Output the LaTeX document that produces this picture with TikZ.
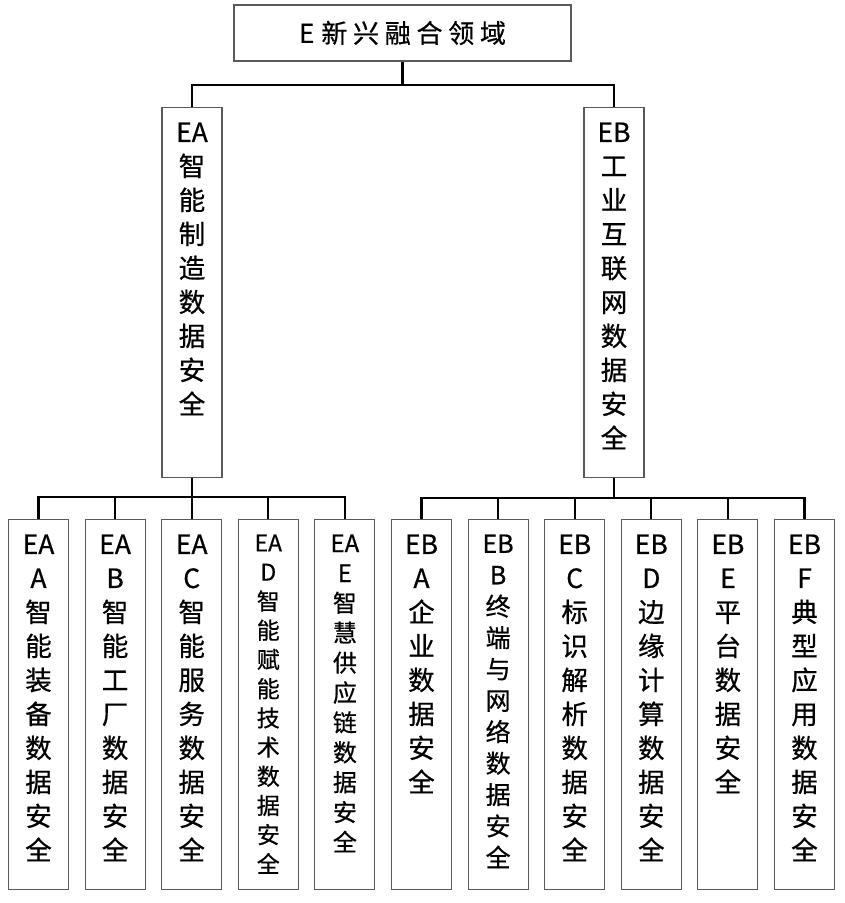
\documentclass[tikz,border=0pt]{standalone}
\usepackage{fontspec}
\setmainfont{Noto Sans CJK SC}[FakeBold=0.6]
\newfontfamily\titlefont[LetterSpace=22,FakeBold=0.6]{Noto Sans CJK SC}
\usetikzlibrary{positioning}
% one column of text, set from the top of a tall box
\newcommand{\colbox}[3]{\parbox[c][370pt][t]{58pt}{\centering\fontsize{#1}{#2}\selectfont\vspace*{15pt}#3\par}}
\tikzset{
  box/.style={draw=black!65,line width=1.1pt,inner sep=0pt,minimum width=60pt,fill=white},
  leaf/.style={box,anchor=north},
  link/.style={line width=2.2pt}
}

\begin{document}
\begin{tikzpicture}[x=1pt,y=-1pt]
  \useasboundingbox (0,0) rectangle (845,903);
  \fill[white] (0,0) rectangle (845,903);
  % root
  \node[box,minimum width=337pt,minimum height=56pt,font=\fontsize{26}{30}\selectfont] (e) at (402.5,33) {E\hspace{7pt}{\titlefont 新兴融合领域}\hspace{-5pt}};
  % second level
  \node[leaf] (ea) at (192,107) {\colbox{26.5}{34}{EA\\智\\能\\制\\造\\数\\据\\安\\全}};
  \node[leaf] (eb) at (614,107) {\colbox{26.5}{34}{EB\\工\\业\\互\\联\\网\\数\\据\\安\\全}};
  % leaves under EA
  \node[leaf] (eaa) at (38.5,519) {\colbox{26.5}{34}{EA\\A\\智\\能\\装\\备\\数\\据\\安\\全}};
  \node[leaf] (eab) at (115.1,519) {\colbox{26.5}{34}{EA\\B\\智\\能\\工\\厂\\数\\据\\安\\全}};
  \node[leaf] (eac) at (191.7,519) {\colbox{26.5}{34}{EA\\C\\智\\能\\服\\务\\数\\据\\安\\全}};
  \node[leaf] (ead) at (268.3,519) {\colbox{23}{29.2}{EA\\D\\智\\能\\赋\\能\\技\\术\\数\\据\\安\\全}};
  \node[leaf] (eae) at (344.9,519) {\colbox{24}{29.9}{EA\\E\\智\\慧\\供\\应\\链\\数\\据\\安\\全}};
  % leaves under EB
  \node[leaf] (eba) at (421.5,519) {\colbox{26.5}{34}{EB\\A\\企\\业\\数\\据\\安\\全}};
  \node[leaf] (ebb) at (498.1,519) {\colbox{25}{31.4}{EB\\B\\终\\端\\与\\网\\络\\数\\据\\安\\全}};
  \node[leaf] (ebc) at (574.7,519) {\colbox{26.5}{34}{EB\\C\\标\\识\\解\\析\\数\\据\\安\\全}};
  \node[leaf] (ebd) at (651.3,519) {\colbox{26.5}{34}{EB\\D\\边\\缘\\计\\算\\数\\据\\安\\全}};
  \node[leaf] (ebe) at (727.9,519) {\colbox{26.5}{34}{EB\\E\\平\\台\\数\\据\\安\\全}};
  \node[leaf] (ebf) at (804.5,519) {\colbox{26.5}{34}{EB\\F\\典\\型\\应\\用\\数\\据\\安\\全}};
  % connectors
  \coordinate (ebus) at (402.5,85);
  \draw[link] (e.south) -- (ebus);
  \draw[link] (ea.north) |- (ebus) -| (eb.north);
  \coordinate (abus) at (192,497);
  \draw[link] (ea.south) -- (abus);
  \draw[link] (eaa.north) |- (abus) -| (eae.north);
  \foreach \n in {eab,eac,ead} \draw[link] (\n.north) -- (\n.north |- abus);
  \coordinate (bbus) at (614,498);
  \draw[link] (eb.south) -- (bbus);
  \draw[link] (eba.north) |- (bbus) -| (ebf.north);
  \foreach \n in {ebb,ebc,ebd,ebe} \draw[link] (\n.north) -- (\n.north |- bbus);
\end{tikzpicture}
\end{document}
